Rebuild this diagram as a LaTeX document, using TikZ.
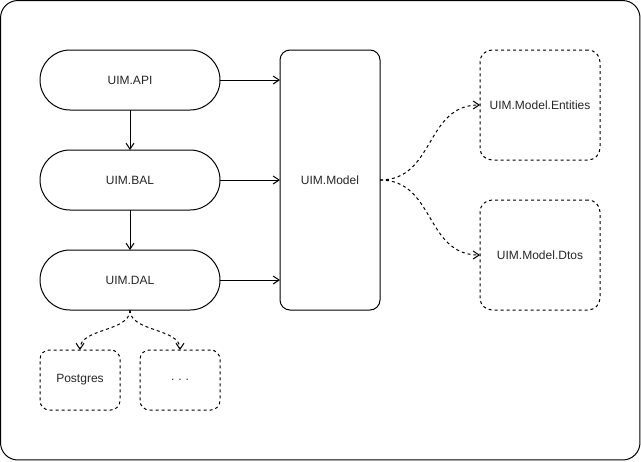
\documentclass[tikz,border=0pt]{standalone}
\usepackage{fontspec}
\setmainfont{Liberation Sans}
\usetikzlibrary{arrows.meta}
\begin{document}
\begin{tikzpicture}[x=0.75pt,y=-0.75pt,line width=0.75pt,
  every node/.style={font=\fontsize{9}{11}\selectfont,text=black!85,inner sep=0pt,outer sep=0pt},
  pill/.style={draw,minimum width=135pt,minimum height=45pt,rounded corners=22.5pt},
  modelbox/.style={draw,minimum width=75pt,minimum height=195pt,rounded corners=7.5pt},
  subbox/.style={draw,dsh,minimum width=90pt,minimum height=82.5pt,rounded corners=9pt},
  dbbox/.style={draw,dsh,minimum width=60pt,minimum height=45pt,rounded corners=7pt},
  arr/.style={-{Straight Barb[length=4.5pt,width=6pt]}},
  dsh/.style={dash pattern=on 2.25pt off 2.25pt}
]
\useasboundingbox (0,0) rectangle (641,461);
\node[draw,minimum width=479.6pt,minimum height=344.6pt,rounded corners=13pt] (frame) at (320.25,230.25) {};
\node[pill] (api) at (130,80) {UIM.API};
\node[pill] (bal) at (130,180) {UIM.BAL};
\node[pill] (dal) at (130,280) {UIM.DAL};
\node[modelbox] (model) at (330,180) {UIM.Model};
\node[subbox] (ent) at (540,105) {UIM.Model.Entities};
\node[subbox] (dto) at (540,255) {UIM.Model.Dtos};
\node[dbbox] (pg) at (80,380) {Postgres};
\node[dbbox] (more) at (180,380) {.\,\,.\,\,.};
\draw[arr] (api.east) -- (model.west |- api.east);
\draw[arr] (bal.east) -- (model.west);
\draw[arr] (dal.east) -- (model.west |- dal.east);
\draw[arr] (api.south) -- (bal.north);
\draw[arr] (bal.south) -- (dal.north);
\draw[arr,dsh] (model.east) .. controls (435,180) and (425,105) .. (ent.west);
\draw[arr,dsh] (model.east) .. controls (435,180) and (425,255) .. (dto.west);
\draw[arr,dsh] (dal.south) .. controls (130,332) and (80,328) .. (pg.north);
\draw[arr,dsh] (dal.south) .. controls (130,332) and (180,328) .. (more.north);
\end{tikzpicture}
\end{document}
